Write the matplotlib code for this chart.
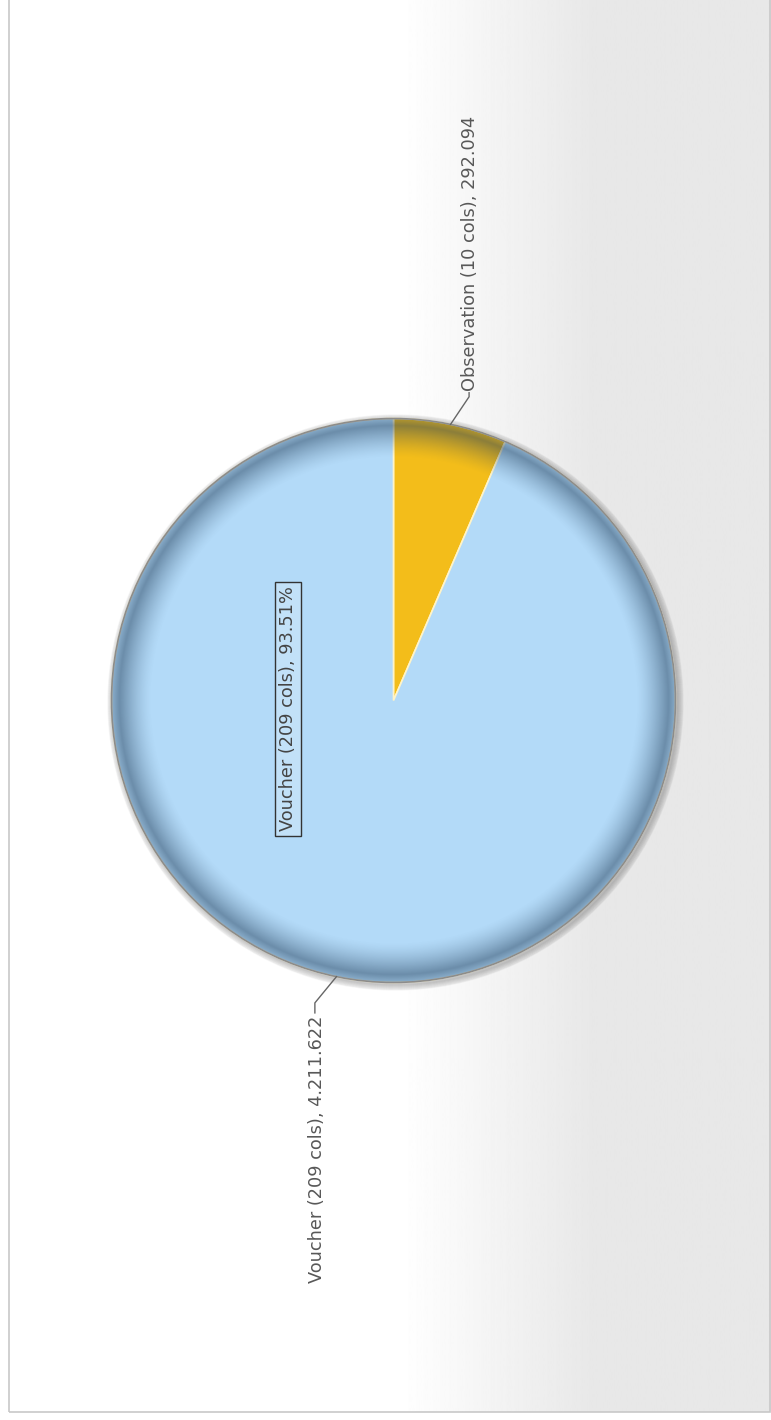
import numpy as np
import matplotlib.pyplot as plt
from matplotlib.patches import Circle, Rectangle

# data
labels = ['Observation (10 cols)', 'Voucher (209 cols)']
values = [292094, 4211622]
value_text = ['292.094', '4.211.622']
colors = ['#f3bd1a', '#b3daf8']

W, H = 771, 1420
fig = plt.figure(figsize=(W / 100, H / 100), dpi=100)
ax = fig.add_axes([0, 0, 1, 1])

# background: white on the left, fading to light grey
xs = np.linspace(8, W, 800)
g = np.clip((xs - 400) / 190, 0, 1)
shade = 1 - g * 0.09
ax.imshow(np.tile(shade, (2, 1)), cmap='gray', vmin=0, vmax=1,
          extent=[8, W, 8, H], aspect='auto', zorder=0)
ax.add_patch(Rectangle((8.5, 8.5), W - 10, H, fill=False, ec='#c8c8c8', lw=1.2, zorder=0.5))

cx, cy, R = 393.5, 719.5, 282

# soft shadow
for i in range(6):
    ax.add_patch(Circle((cx + 2, cy - 2), R + 0.5 + i, color='k', alpha=0.035, zorder=1))

wedges, _ = ax.pie(values, colors=colors, startangle=90, counterclock=False,
                   center=(cx, cy), radius=R,
                   wedgeprops=dict(edgecolor='#fff4c8', linewidth=1.2, zorder=2))

# darker rim shading
n = 700
yy, xx = np.mgrid[-1:1:n * 1j, -1:1:n * 1j]
rr = np.hypot(xx, yy)
a = np.clip((rr - 0.86) / 0.115, 0, 1) ** 1.4 * 0.5
a = np.where(rr > 0.975, 0.5 - (rr - 0.975) / 0.025 * 0.2, a)
rgba = np.zeros((n, n, 4))
rgba[..., :3] = (0.14, 0.25, 0.36)
rgba[..., 3] = np.clip(a, 0, 1)
im = ax.imshow(rgba, extent=[cx - R, cx + R, cy - R, cy + R], zorder=3,
               interpolation='bilinear', origin='lower')
im.set_clip_path(Circle((cx, cy), R, transform=ax.transData))
ax.add_patch(Circle((cx, cy), R, fill=False, ec='#8c8c8c', lw=1.2, zorder=4))

# outside labels with leader lines
txt_kw = dict(rotation=90, fontsize=12.8, color='#585858', family='DejaVu Sans', zorder=5)
for w, lab, vt in zip(wedges, labels, value_text):
    ang = np.deg2rad((w.theta1 + w.theta2) / 2)
    x0, y0 = cx + R * np.cos(ang), cy + R * np.sin(ang)
    if np.sin(ang) > 0:
        a1 = ang - np.deg2rad(2.3)
        x1, y1 = cx + 1.11 * R * np.cos(a1), cy + 1.11 * R * np.sin(a1)
        ax.plot([x0, x1, x1], [y0, y1, y1 + 4], color='#666666', lw=1, zorder=5)
        ax.text(x1 + 1, y1 + 6, f'{lab}, {vt}', ha='center', va='bottom', **txt_kw)
    else:
        a1 = ang - np.deg2rad(2.9)
        x1, y1 = cx + 1.108 * R * np.cos(a1), cy + 1.108 * R * np.sin(a1)
        ax.plot([x0, x1, x1], [y0, y1, y1 - 10], color='#666666', lw=1, zorder=5)
        ax.text(x1 + 2, y1 - 13, f'{lab}, {vt}', ha='center', va='top', **txt_kw)

# inside percentage label
pct = values[1] / sum(values) * 100
ax.text(cx - 0.374 * R, cy - 0.03 * R, f'{labels[1]}, {pct:.2f}%',
        ha='center', va='center', rotation=90, fontsize=12.8, color='#444444',
        family='DejaVu Sans', zorder=6,
        bbox=dict(boxstyle='square,pad=0.25', fc='#c2e1f8', ec='#333333', lw=1))

ax.set_xlim(0, W)
ax.set_ylim(0, H)
ax.set_aspect('auto')
ax.axis('off')
fig.savefig('out.png', dpi=100)
